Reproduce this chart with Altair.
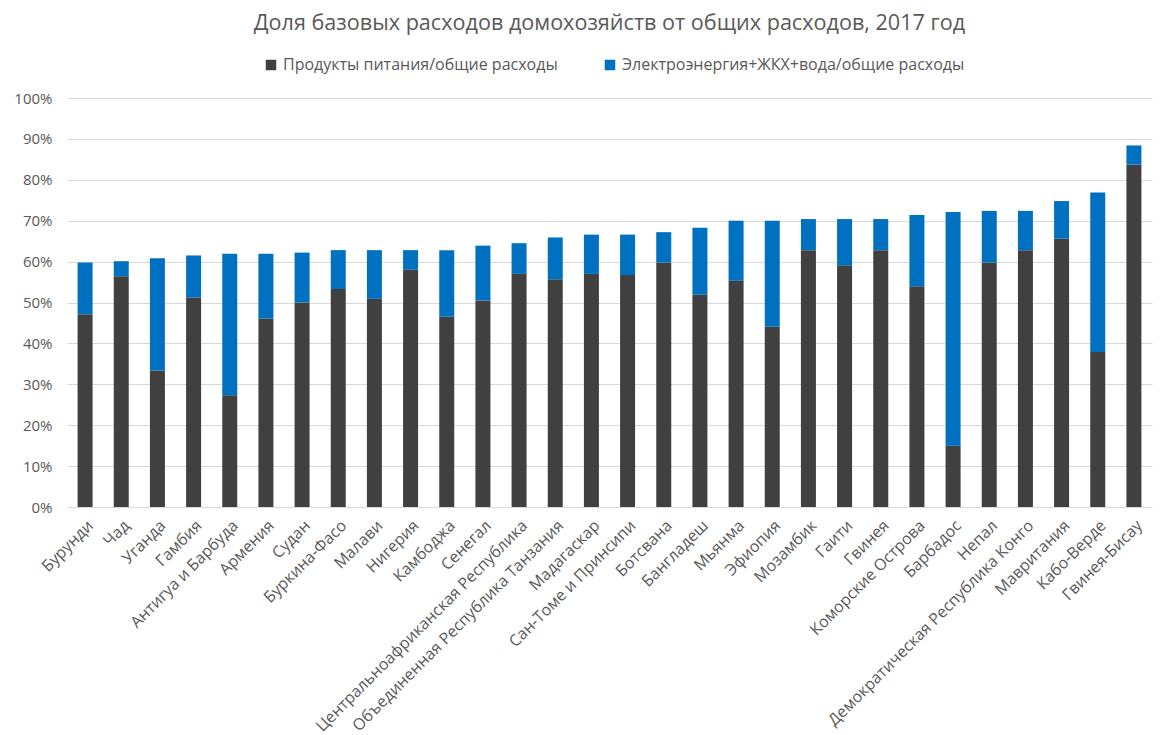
import altair as alt
import pandas as pd

countries = ["Бурунди", "Чад", "Уганда", "Гамбия", "Антигуа и Барбуда", "Армения", "Судан",
             "Буркина-Фасо", "Малави", "Нигерия", "Камбоджа", "Сенегал",
             "Центральноафриканская Республика", "Объединенная Республика Танзания",
             "Мадагаскар", "Сан-Томе и Принсипи", "Ботсвана", "Бангладеш", "Мьянма",
             "Эфиопия", "Мозамбик", "Гаити", "Гвинея", "Коморские Острова", "Барбадос",
             "Непал", "Демократическая Республика Конго", "Мавритания", "Кабо-Верде",
             "Гвинея-Бисау"]

food = [47.1, 56.4, 33.4, 51.2, 27.3, 46.1, 50.0, 53.3, 50.9, 58.0, 46.5, 50.5,
        57.0, 55.7, 57.0, 56.7, 59.8, 51.9, 55.3, 44.1, 62.8, 59.1, 62.8, 54.0,
        15.0, 59.8, 62.8, 65.6, 37.9, 83.7]

total = [59.8, 60.1, 60.8, 61.5, 61.9, 61.9, 62.2, 62.8, 62.8, 62.8, 62.8, 63.9,
         64.5, 65.9, 66.6, 66.6, 67.2, 68.3, 70.0, 70.0, 70.4, 70.4, 70.4, 71.4,
         72.1, 72.4, 72.4, 74.8, 76.9, 88.4]

series = ["Продукты питания/общие расходы", "Электроэнергия+ЖКХ+вода/общие расходы"]

rows = []
for c, f, t in zip(countries, food, total):
    rows.append({"country": c, "series": series[0], "value": f / 100, "ord": 0})
    rows.append({"country": c, "series": series[1], "value": (t - f) / 100, "ord": 1})
df = pd.DataFrame(rows)

FONT = "Open Sans"
W = 1085

chart = alt.Chart(df).mark_bar(size=15).encode(
    x=alt.X("country:N", sort=countries, title=None,
            axis=alt.Axis(labelAngle=-45, labelAlign="right", labelBaseline="top",
                          labelFontSize=16, labelColor="#595959", labelFont=FONT,
                          ticks=False, domain=False, labelPadding=10, labelLimit=400)),
    y=alt.Y("value:Q", stack="zero", title=None,
            scale=alt.Scale(domain=[0, 1], nice=False),
            axis=alt.Axis(format=".0%", values=[i / 10 for i in range(11)],
                          labelOverlap=False, labelFontSize=15, labelColor="#595959",
                          labelFont=FONT, ticks=False, domain=False, labelPadding=15,
                          gridColor="#D9D9D9", gridWidth=1.2)),
    color=alt.Color("series:N", sort=series,
                    scale=alt.Scale(domain=series, range=["#404040", "#0070C0"]),
                    legend=alt.Legend(orient="none", direction="horizontal", title=None,
                                      legendX=196, legendY=-41,
                                      symbolType="square", symbolSize=110,
                                      labelFontSize=16, labelColor="#595959",
                                      labelFont=FONT, labelLimit=500,
                                      columnPadding=44)),
    order=alt.Order("ord:Q", sort="ascending"),
).properties(
    width=W,
    height=409,
    title=alt.TitleParams("Доля базовых расходов домохозяйств от общих расходов, 2017 год",
                          fontSize=21.6, font=FONT, fontWeight="normal", color="#595959",
                          anchor="middle", offset=22),
).configure_view(stroke=None).configure_scale(bandPaddingInner=0.58, bandPaddingOuter=0.29)

chart.save("out.html", embed_options={"renderer": "svg", "actions": False})
